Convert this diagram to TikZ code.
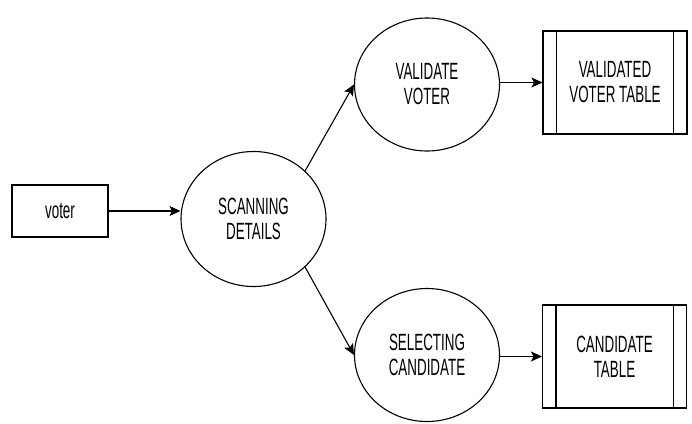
\documentclass[tikz,border=0pt]{standalone}
\usepackage{fontspec}
\usetikzlibrary{shapes.geometric,arrows.meta}
\newfontfamily\dfdfont[FakeStretch=0.57]{Liberation Sans}
\begin{document}
\begin{tikzpicture}[x=1pt,y=-1pt,
  every node/.style={font=\dfdfont\fontsize{23.5}{25}\selectfont, align=center, inner sep=0pt},
  proc/.style={draw, line width=1.1pt, ellipse, minimum width=145pt, minimum height=135pt},
  extent/.style={draw, line width=1.1pt, rectangle, minimum width=96pt, minimum height=52pt},
  store/.style={draw, line width=1.1pt, rectangle, minimum width=144pt, minimum height=103pt},
  arr/.style={line width=1.1pt, -{Stealth[length=11pt,width=10pt,inset=2.5pt]}}]
\useasboundingbox (0,0) rectangle (692,423);
\fill[white] (0,0) rectangle (692,423);

% external entity
\node[extent] (voter) at (60,211) {voter};

% processes
\node[proc] (scan) at (253.5,219) {SCANNING\\DETAILS};
\node[proc, minimum height=133pt] (valid) at (427,84.5) {VALIDATE\\VOTER};
\node[proc, minimum height=133pt] (select) at (427,355) {SELECTING\\CANDIDATE};

% data stores with side bars
\node[store] (vtable) at (615,82.5) {VALIDATED\\VOTER TABLE};
\node[store] (ctable) at (614.5,356.5) {CANDIDATE\\TABLE};
\foreach \s in {vtable,ctable}{
  \draw[line width=1.1pt] ([xshift=14pt]\s.north west) -- ([xshift=14pt]\s.south west);
  \draw[line width=1.1pt] ([xshift=-14pt]\s.north east) -- ([xshift=-14pt]\s.south east);
}

% data flows
\draw[arr] (voter.east) -- (scan.west |- voter.east);
\draw[arr] (scan.43) -- (valid.west);
\draw[arr] (scan.-43) -- (select.west);
\draw[arr] (valid.east |- vtable.west) -- (vtable.west);
\draw[arr] (select.east |- ctable.west) -- (ctable.west);
\end{tikzpicture}
\end{document}
